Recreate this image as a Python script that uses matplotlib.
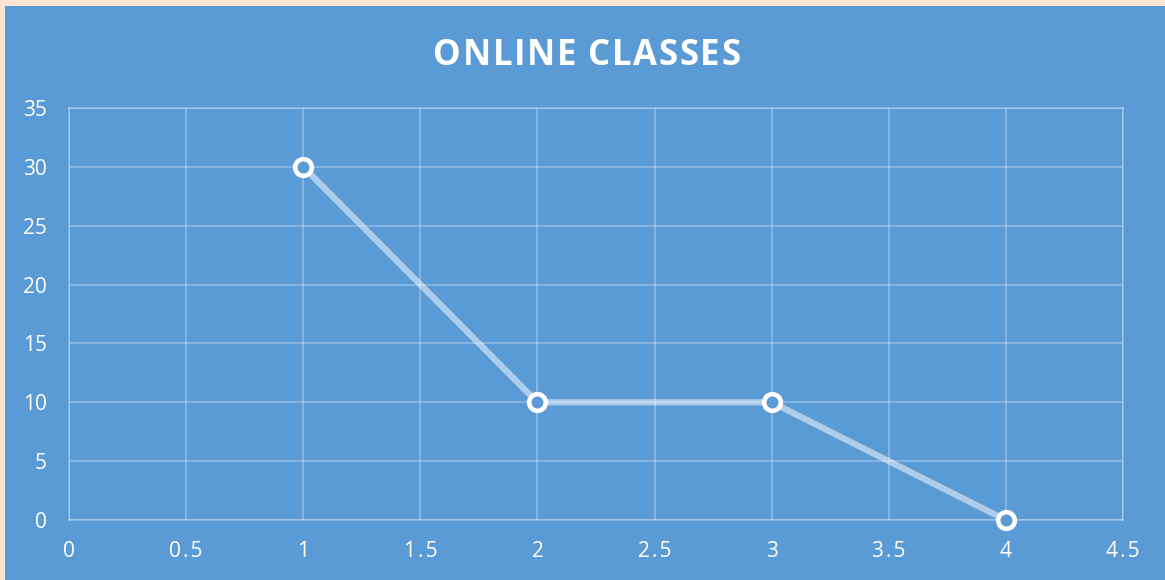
import matplotlib.pyplot as plt
from matplotlib.patches import Rectangle

# data
x_vals = [1, 2, 3, 4]
y_vals = [30, 10, 10, 0]
x_ticks = [0, 0.5, 1, 1.5, 2, 2.5, 3, 3.5, 4, 4.5]
y_ticks = [0, 5, 10, 15, 20, 25, 30, 35]
title = 'ONLINE CLASSES'

blue = '#5b9bd5'
peach = '#fde3d3'


def spaced_text(fig, x, y, s, gap, **kw):
    # draw text letter by letter with extra spacing (in pixels), centred on x
    r = fig.canvas.get_renderer()
    widths = []
    for ch in s:
        if ch == ' ':
            t2 = fig.text(0, 0, 'a a', **kw)
            t3 = fig.text(0, 0, 'aa', **kw)
            w = t2.get_window_extent(r).width - t3.get_window_extent(r).width
            t2.remove()
            t3.remove()
        else:
            t = fig.text(0, 0, ch, **kw)
            w = t.get_window_extent(r).width
            t.remove()
        widths.append(w)
    total = sum(widths) + gap * (len(s) - 1)
    pos = x * fig.bbox.width - total / 2
    for ch, w in zip(s, widths):
        fig.text(pos / fig.bbox.width, y, ch, ha='left', **kw)
        pos += w + gap


fig = plt.figure(figsize=(11.65, 5.8), dpi=100, facecolor=peach)
# blue chart area, with a thin peach strip on the left and top
fig.patches.append(Rectangle((5 / 1165, 0), 1 - 5 / 1165, 1 - 6 / 580,
                             transform=fig.transFigure, facecolor=blue,
                             edgecolor='none', zorder=0))

ax = fig.add_axes([69 / 1165, 60 / 580, (1123 - 69) / 1165, (520 - 108) / 580])
ax.set_zorder(2)
ax.set_facecolor('none')

ax.plot(x_vals, y_vals, color='white', alpha=0.5, lw=4.5,
        solid_capstyle='round', zorder=3)
ax.plot(x_vals, y_vals, 'o', ms=12, mfc=blue, mec='white', mew=3.3, zorder=4,
        clip_on=False)

ax.set_xlim(0, 4.5)
ax.set_ylim(0, 35)
ax.set_xticks(x_ticks)
ax.set_yticks(y_ticks)
ax.set_xticklabels(['\u200a'.join(f'{v:g}') for v in x_ticks])
ax.set_yticklabels([str(v) for v in y_ticks])
ax.tick_params(length=0, colors='white', labelsize=15)
ax.tick_params(axis='y', pad=16)
ax.tick_params(axis='x', pad=15)
for lbl in ax.get_xticklabels() + ax.get_yticklabels():
    lbl.set_fontfamily(['Open Sans', 'DejaVu Sans'])

ax.grid(True, color='white', alpha=0.3, lw=1.2)
for s in ax.spines.values():
    s.set_color('white')
    s.set_alpha(0.3)
    s.set_linewidth(1.2)

spaced_text(fig, 587 / 1165, 1 - 56 / 580, title, 1.6, va='center',
            color='white', fontsize=25, fontweight='bold', family='Open Sans',
            zorder=5)

fig.savefig('out.png', dpi=100, facecolor=peach)
